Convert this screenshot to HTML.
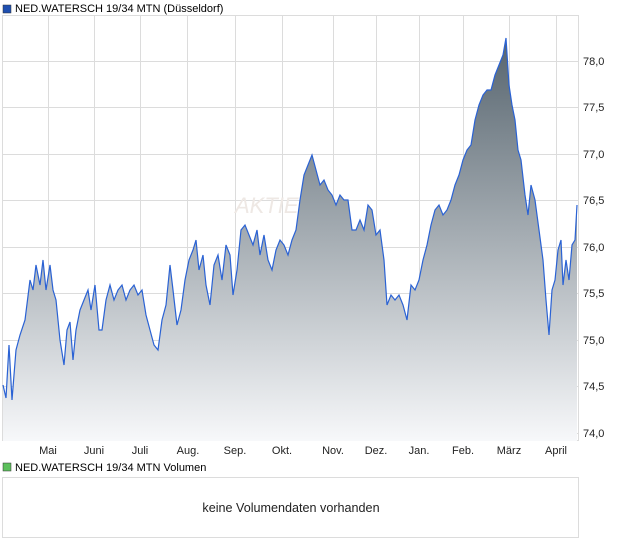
<!DOCTYPE html><html><head><style>body{margin:0;background:#fff;font-family:"Liberation Sans",sans-serif}</style></head><body>
<svg width="620" height="546" xmlns="http://www.w3.org/2000/svg" font-family="Liberation Sans, sans-serif" font-size="11">
<defs><linearGradient id="g" x1="0" y1="38" x2="0" y2="441" gradientUnits="userSpaceOnUse"><stop offset="0" stop-color="#56646e"/><stop offset="1" stop-color="#f7f8fa"/></linearGradient></defs>
<rect x="3" y="5" width="8" height="8" fill="#1f4fb0" stroke="#333" stroke-width="0.5"/>
<text x="15" y="12">NED.WATERSCH 19/34 MTN (Düsseldorf)</text>
<g stroke="#dcdcdc" stroke-width="1">
<rect x="2.5" y="15.5" width="576" height="425" fill="none"/>
<line x1="2" y1="61.5" x2="578" y2="61.5"/><line x1="2" y1="107.5" x2="578" y2="107.5"/><line x1="2" y1="154.5" x2="578" y2="154.5"/><line x1="2" y1="200.5" x2="578" y2="200.5"/><line x1="2" y1="247.5" x2="578" y2="247.5"/><line x1="2" y1="293.5" x2="578" y2="293.5"/><line x1="2" y1="340.5" x2="578" y2="340.5"/><line x1="2" y1="386.5" x2="578" y2="386.5"/><line x1="2" y1="433.5" x2="578" y2="433.5"/>
<line x1="48.5" y1="15" x2="48.5" y2="441"/><line x1="94.5" y1="15" x2="94.5" y2="441"/><line x1="140.5" y1="15" x2="140.5" y2="441"/><line x1="187.5" y1="15" x2="187.5" y2="441"/><line x1="235.5" y1="15" x2="235.5" y2="441"/><line x1="282.5" y1="15" x2="282.5" y2="441"/><line x1="333.5" y1="15" x2="333.5" y2="441"/><line x1="376.5" y1="15" x2="376.5" y2="441"/><line x1="419.5" y1="15" x2="419.5" y2="441"/><line x1="463.5" y1="15" x2="463.5" y2="441"/><line x1="509.5" y1="15" x2="509.5" y2="441"/><line x1="556.5" y1="15" x2="556.5" y2="441"/>
</g>
<text x="235" y="213" font-size="22" fill="#eee8e4" font-style="italic">AKTIEN</text>
<path fill="url(#g)" d="M3,441 L3,385 6,398 9,345 12,400 16,350 20,335 25,320 30,280 33,290 36,265 40,285 43,260 46,290 50,265 53,290 56,300 60,340 64,365 67,330 70,322 73,360 76,330 80,310 84,300 88,290 91,310 95,285 99,330 102,330 106,300 110,285 114,300 118,290 122,285 126,300 130,290 134,285 138,295 142,290 146,315 150,330 154,345 158,350 162,320 166,305 170,265 173,290 177,325 181,310 185,280 189,260 193,250 196,240 199,270 203,255 206,285 210,305 214,265 218,255 222,280 226,245 230,255 233,295 237,270 241,230 245,225 249,235 253,245 257,230 260,255 264,235 268,260 272,270 276,250 280,240 284,245 288,255 292,240 296,230 300,200 304,175 308,165 312,155 316,170 320,185 324,180 328,190 332,195 336,205 340,195 344,200 348,200 352,230 356,230 360,220 364,230 368,205 372,210 376,235 380,230 384,260 387,305 391,295 395,300 399,295 403,305 407,320 411,285 415,290 419,280 423,260 427,245 431,225 435,210 439,205 443,215 447,210 451,200 455,185 459,175 463,160 467,150 471,145 475,120 479,105 483,95 487,90 491,90 495,75 499,65 503,55 506,38 509,85 512,105 515,120 518,150 521,160 525,195 528,215 531,185 535,200 539,230 543,260 546,300 549,335 552,290 555,280 558,250 561,240 563,285 566,260 569,280 572,245 575,240 577,205 L577,441 Z"/>
<polyline fill="none" stroke="#2a62d4" stroke-width="1.2" points="3,385 6,398 9,345 12,400 16,350 20,335 25,320 30,280 33,290 36,265 40,285 43,260 46,290 50,265 53,290 56,300 60,340 64,365 67,330 70,322 73,360 76,330 80,310 84,300 88,290 91,310 95,285 99,330 102,330 106,300 110,285 114,300 118,290 122,285 126,300 130,290 134,285 138,295 142,290 146,315 150,330 154,345 158,350 162,320 166,305 170,265 173,290 177,325 181,310 185,280 189,260 193,250 196,240 199,270 203,255 206,285 210,305 214,265 218,255 222,280 226,245 230,255 233,295 237,270 241,230 245,225 249,235 253,245 257,230 260,255 264,235 268,260 272,270 276,250 280,240 284,245 288,255 292,240 296,230 300,200 304,175 308,165 312,155 316,170 320,185 324,180 328,190 332,195 336,205 340,195 344,200 348,200 352,230 356,230 360,220 364,230 368,205 372,210 376,235 380,230 384,260 387,305 391,295 395,300 399,295 403,305 407,320 411,285 415,290 419,280 423,260 427,245 431,225 435,210 439,205 443,215 447,210 451,200 455,185 459,175 463,160 467,150 471,145 475,120 479,105 483,95 487,90 491,90 495,75 499,65 503,55 506,38 509,85 512,105 515,120 518,150 521,160 525,195 528,215 531,185 535,200 539,230 543,260 546,300 549,335 552,290 555,280 558,250 561,240 563,285 566,260 569,280 572,245 575,240 577,205"/>
<g fill="#222" text-anchor="start">
<text x="583" y="65">78,0</text><text x="583" y="111">77,5</text><text x="583" y="158">77,0</text><text x="583" y="204">76,5</text><text x="583" y="251">76,0</text><text x="583" y="297">75,5</text><text x="583" y="344">75,0</text><text x="583" y="390">74,5</text><text x="583" y="437">74,0</text>
</g>
<g fill="#222" text-anchor="middle">
<text x="48" y="454">Mai</text><text x="94" y="454">Juni</text><text x="140" y="454">Juli</text><text x="188" y="454">Aug.</text><text x="235" y="454">Sep.</text><text x="282" y="454">Okt.</text><text x="333" y="454">Nov.</text><text x="376" y="454">Dez.</text><text x="419" y="454">Jan.</text><text x="463" y="454">Feb.</text><text x="509" y="454">März</text><text x="556" y="454">April</text>
</g>
<rect x="3" y="463" width="8" height="8" fill="#5cc05c" stroke="#333" stroke-width="0.5"/>
<text x="15" y="471">NED.WATERSCH 19/34 MTN Volumen</text>
<rect x="2.5" y="477.5" width="576" height="60" fill="none" stroke="#dcdcdc"/>
<text x="291" y="512" text-anchor="middle" font-size="12.6" fill="#222">keine Volumendaten vorhanden</text>
</svg>
</body></html>
